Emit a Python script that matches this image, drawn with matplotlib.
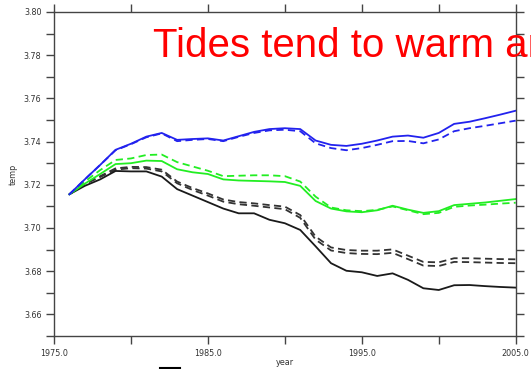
import matplotlib
matplotlib.use("Agg")
import matplotlib.pyplot as plt
from matplotlib.lines import Line2D
from matplotlib.ticker import FixedLocator, MultipleLocator, FormatStrFormatter

years = list(range(1976, 2006))

blue_solid = [3.7156, 3.7225, 3.7292, 3.7362, 3.7390, 3.7423, 3.7440, 3.7408, 3.7412, 3.7415,
              3.7405, 3.7425, 3.7445, 3.7458, 3.7462, 3.7458, 3.7405, 3.7385, 3.7380, 3.7390,
              3.7405, 3.7423, 3.7428, 3.7418, 3.7440, 3.7482, 3.7492, 3.7508, 3.7525, 3.7543]
blue_dash = [3.7156, 3.7225, 3.7292, 3.7360, 3.7388, 3.7420, 3.7438, 3.7402, 3.7408, 3.7412,
             3.7402, 3.7422, 3.7440, 3.7452, 3.7455, 3.7448, 3.7392, 3.7370, 3.7360, 3.7370,
             3.7385, 3.7402, 3.7403, 3.7392, 3.7410, 3.7448, 3.7462, 3.7473, 3.7485, 3.7497]
green_solid = [3.7156, 3.7205, 3.7250, 3.7296, 3.7300, 3.7312, 3.7310, 3.7272, 3.7258, 3.7250,
               3.7225, 3.7220, 3.7218, 3.7216, 3.7213, 3.7195, 3.7125, 3.7090, 3.7077, 3.7073,
               3.7082, 3.7103, 3.7085, 3.7070, 3.7078, 3.7106, 3.7112, 3.7118, 3.7126, 3.7134]
green_dash = [3.7156, 3.7215, 3.7268, 3.7315, 3.7322, 3.7338, 3.7340, 3.7305, 3.7285, 3.7265,
              3.7240, 3.7242, 3.7244, 3.7244, 3.7240, 3.7215, 3.7145, 3.7095, 3.7082, 3.7078,
              3.7084, 3.7100, 3.7082, 3.7064, 3.7070, 3.7098, 3.7104, 3.7108, 3.7113, 3.7117]
black_solid = [3.7156, 3.7195, 3.7225, 3.7264, 3.7262, 3.7262, 3.7238, 3.7180, 3.7150, 3.7120,
               3.7090, 3.7068, 3.7068, 3.7038, 3.7022, 3.6991, 3.6915, 3.6837, 3.6802, 3.6795,
               3.6778, 3.6790, 3.6760, 3.6721, 3.6713, 3.6735, 3.6736, 3.6731, 3.6727, 3.6724]
black_dash_a = [3.7156, 3.7205, 3.7240, 3.7276, 3.7283, 3.7282, 3.7270, 3.7215, 3.7185, 3.7160,
                3.7132, 3.7120, 3.7114, 3.7106, 3.7099, 3.7060, 3.6960, 3.6910, 3.6898, 3.6895,
                3.6895, 3.6901, 3.6872, 3.6843, 3.6841, 3.6860, 3.6860, 3.6858, 3.6856, 3.6855]
black_dash_b = [3.7156, 3.7203, 3.7236, 3.7270, 3.7277, 3.7275, 3.7262, 3.7207, 3.7176, 3.7150,
                3.7122, 3.7110, 3.7103, 3.7095, 3.7087, 3.7047, 3.6946, 3.6896, 3.6884, 3.6880,
                3.6879, 3.6885, 3.6856, 3.6826, 3.6824, 3.6843, 3.6842, 3.6840, 3.6838, 3.6837]

x_major = [1975, 1985, 1995, 2005]
x_minor = [1980, 1990, 2000]

W, H = 531, 369
fig = plt.figure(figsize=(W / 100, H / 100), dpi=100)
ax = fig.add_axes([54 / W, 1 - 336 / H, (515.7 - 54) / W, (336 - 12) / H])

dash = (0, (4, 2.4))
ax.plot(years, black_dash_a, color="#333333", lw=1.3, ls=dash)
ax.plot(years, black_dash_b, color="#333333", lw=1.3, ls=dash)
ax.plot(years, black_solid, color="#1a1a1a", lw=1.3)
ax.plot(years, green_dash, color="#22ee22", lw=1.3, ls=dash)
ax.plot(years, green_solid, color="#22ee22", lw=1.3)
ax.plot(years, blue_dash, color="#2222ee", lw=1.3, ls=dash)
ax.plot(years, blue_solid, color="#2222ee", lw=1.3)

ax.set_xlim(1975, 2005)
ax.set_ylim(3.65, 3.80)

ax.xaxis.set_major_locator(FixedLocator(x_major))
ax.xaxis.set_minor_locator(FixedLocator(x_minor))
ax.yaxis.set_major_locator(MultipleLocator(0.02))
ax.yaxis.set_minor_locator(MultipleLocator(0.01))
ax.xaxis.set_major_formatter(FormatStrFormatter("%.1f"))
ax.yaxis.set_major_formatter(FormatStrFormatter("%.2f"))

spine_c = "#444444"
for s in ax.spines.values():
    s.set_color(spine_c)
    s.set_linewidth(1.0)

ax.tick_params(which="both", direction="out", top=True, right=True,
               color=spine_c, width=1.0, labelsize=5.8, labelcolor="#333333")
ax.tick_params(which="major", length=6, pad=3)
ax.tick_params(which="minor", length=6)
ax.tick_params(axis="x", pad=3)

ax.set_xlabel("year", fontsize=5.8, color="#333333", labelpad=0.5)
ax.set_ylabel("temp", fontsize=5.8, color="#333333", labelpad=4)

fig.text(153 / W, 1 - 57 / H, "Tides tend to warm and", color="red",
         fontsize=29, family="Liberation Sans", va="baseline", ha="left")

fig.add_artist(Line2D([160 / W, 180 / W], [1.5 / H, 1.5 / H], color="black", lw=1.5,
                      transform=fig.transFigure))

fig.savefig("out.png", dpi=100)
